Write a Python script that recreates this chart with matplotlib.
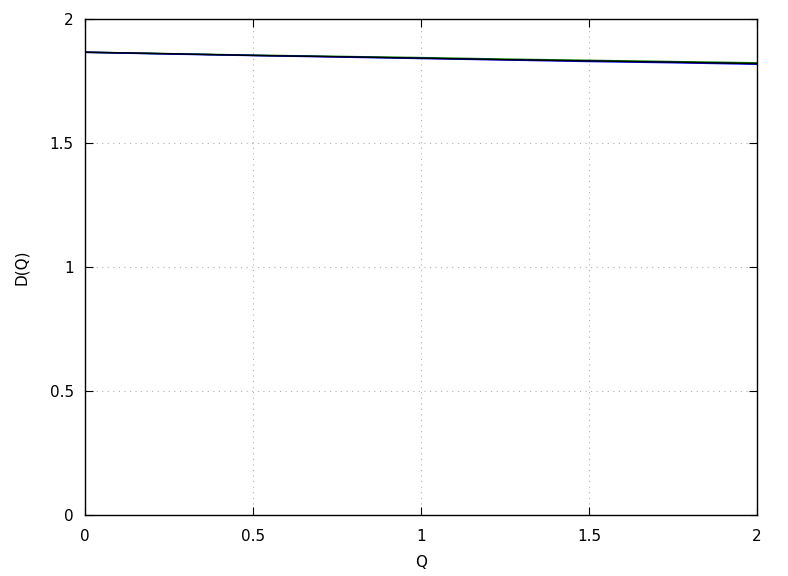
import numpy as np
import matplotlib
matplotlib.use("Agg")
import matplotlib.pyplot as plt

# Q values and D(Q) estimates for the three curves
q = [0.0, 0.25, 0.5, 0.75, 1.0, 1.25, 1.5, 1.75, 2.0]
d_green = [1.866, 1.860, 1.854, 1.849, 1.844, 1.838, 1.833, 1.828, 1.823]
d_blue = [1.866, 1.859, 1.853, 1.847, 1.841, 1.835, 1.829, 1.824, 1.818]
d_black = [1.866, 1.860, 1.853, 1.848, 1.842, 1.836, 1.831, 1.826, 1.820]

ticks = [0, 0.5, 1, 1.5, 2]
tick_labels = ["0", "0.5", "1", "1.5", "2"]

plt.rcParams['font.family'] = ['DejaVu Sans']
fig = plt.figure(figsize=(7.88, 5.76), dpi=100)
ax = fig.add_axes([85/788, 1 - 515/576, (757-85)/788, (515-19)/576])

ax.plot(q, d_green, color='#008000', lw=1.2)
ax.plot(q, d_blue, color='#0000ff', lw=1.2)
ax.plot(q, d_black, color='black', lw=1.0)

ax.set_xlim(0, 2)
ax.set_ylim(0, 2)
ax.set_xticks(ticks)
ax.set_xticklabels(tick_labels)
ax.set_yticks(ticks)
ax.set_yticklabels(tick_labels)
ax.tick_params(direction='in', top=True, right=True, length=6, labelsize=11)
ax.tick_params(axis='x', pad=10)
ax.tick_params(axis='y', pad=8)
ax.grid(True, linestyle=(0, (1, 4)), color='#b0b0b0', lw=0.8)
for s in ax.spines.values():
    s.set_linewidth(1.0)

ax.set_xlabel('Q', fontsize=11, labelpad=8)
ax.set_ylabel('D(Q)', fontsize=11, labelpad=15)

fig.savefig('out.png', dpi=100)
